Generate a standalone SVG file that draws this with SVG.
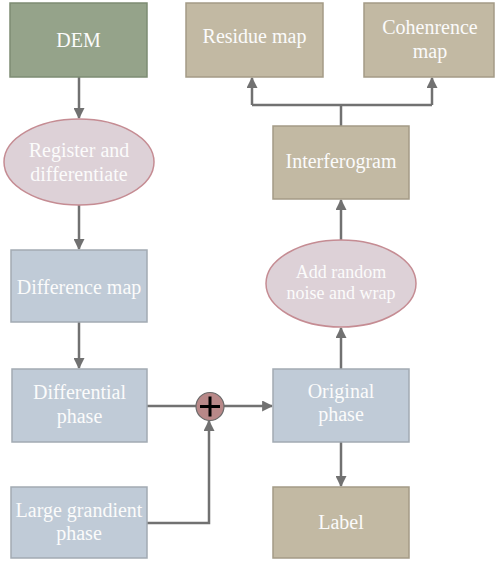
<svg xmlns="http://www.w3.org/2000/svg" width="497" height="565" viewBox="0 0 497 565">
<style>
text{font-family:"Liberation Serif","Times New Roman",serif;fill:#fbfbfb;text-anchor:middle;font-size:20px}
.sm{font-size:18px}
.green{fill:#95a38a;stroke:#7d8c73;stroke-width:1.5}
.blue{fill:#c0cbd7;stroke:#a2aab3;stroke-width:1.5}
.tan{fill:#c2b9a3;stroke:#a49b86;stroke-width:1.5}
.ell{fill:#ddd1d7;stroke:#c58c93;stroke-width:1.5}
.ln{fill:none;stroke:#717171;stroke-width:2.5}
</style>
<defs>
<marker id="ah" viewBox="0 0 10 10" refX="9" refY="5" markerWidth="4.4" markerHeight="4.4" orient="auto" markerUnits="strokeWidth">
<path d="M0,0 L10,5 L0,10 z" fill="#717171"/>
</marker>
</defs>
<rect width="497" height="565" fill="#ffffff"/>
<g id="connectors">
<path class="ln" d="M79,77 V118" marker-end="url(#ah)"/>
<path class="ln" d="M79,205 V249" marker-end="url(#ah)"/>
<path class="ln" d="M79,322 V368" marker-end="url(#ah)"/>
<path class="ln" d="M147,406 H196"/>
<path class="ln" d="M224,406 H272" marker-end="url(#ah)"/>
<path class="ln" d="M147,523 H209 V421" marker-end="url(#ah)"/>
<path class="ln" d="M341,442 V486" marker-end="url(#ah)"/>
<path class="ln" d="M341,369 V328" marker-end="url(#ah)"/>
<path class="ln" d="M341,240 V200" marker-end="url(#ah)"/>
<path class="ln" d="M341,126 V105"/>
<path class="ln" d="M252,105 H432"/>
<path class="ln" d="M252,105 V78" marker-end="url(#ah)"/>
<path class="ln" d="M432,105 V78" marker-end="url(#ah)"/>
</g>
<g id="dem"><rect class="green" x="10" y="3" width="137" height="74"/><text x="78.5" y="47">DEM</text></g>
<g id="register"><ellipse class="ell" cx="79" cy="162" rx="75" ry="43"/><text x="79" y="157">Register and</text><text x="79" y="181">differentiate</text></g>
<g id="difference-map"><rect class="blue" x="11" y="250" width="136" height="72"/><text x="79" y="294">Difference map</text></g>
<g id="differential-phase"><rect class="blue" x="12" y="369" width="135" height="73"/><text x="79.5" y="399">Differential</text><text x="79.5" y="423">phase</text></g>
<g id="large-gradient"><rect class="blue" x="11" y="487" width="136" height="71"/><text x="79" y="517">Large grandient</text><text x="79" y="540">phase</text></g>
<g id="plus"><circle cx="210" cy="406.5" r="14" fill="#b88888" stroke="#6a6a6a" stroke-width="1.2"/><path d="M200,406.5 H220 M210,396.5 V416.5" stroke="#000" stroke-width="3" fill="none"/></g>
<g id="original-phase"><rect class="blue" x="273" y="369" width="136" height="73"/><text x="341" y="398">Original</text><text x="341" y="421">phase</text></g>
<g id="label"><rect class="tan" x="273" y="487" width="136" height="71"/><text x="341" y="529">Label</text></g>
<g id="add-noise"><ellipse class="ell" cx="341" cy="283.5" rx="75" ry="43.5"/><text class="sm" x="341" y="278">Add random</text><text class="sm" x="341" y="299">noise and wrap</text></g>
<g id="interferogram"><rect class="tan" x="273" y="126" width="136" height="73"/><text x="341" y="168">Interferogram</text></g>
<g id="residue-map"><rect class="tan" x="186" y="3" width="137" height="74"/><text x="254.5" y="43">Residue map</text></g>
<g id="coherence-map"><rect class="tan" x="364" y="3" width="130" height="74"/><text x="430" y="34">Cohenrence</text><text x="430" y="58">map</text></g>
</svg>
